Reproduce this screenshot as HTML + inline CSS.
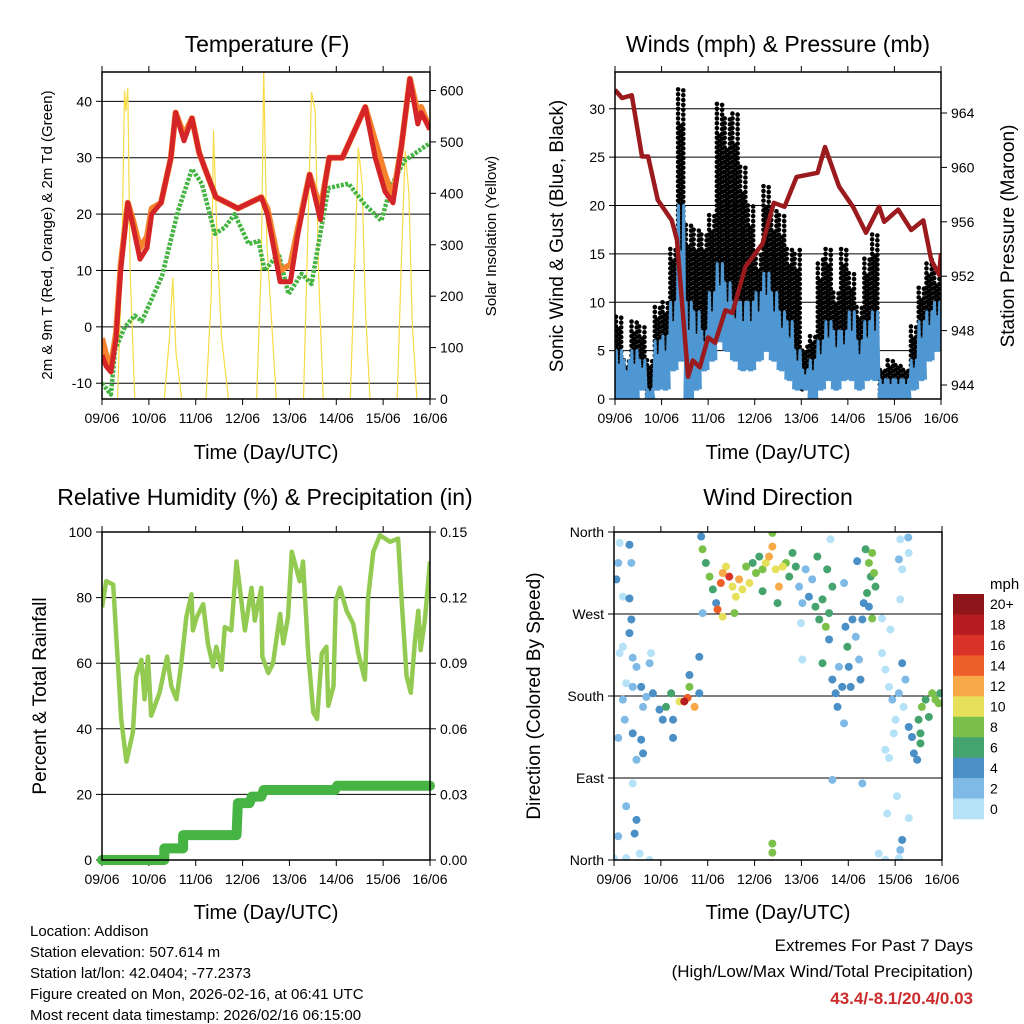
<!DOCTYPE html>
<html><head><meta charset="utf-8">
<style>
body{margin:0;background:#fff;}
svg{display:block;font-family:"Liberation Sans",Arial,sans-serif;}
</style></head>
<body>
<svg id="fig" width="1024" height="1024" viewBox="0 0 1024 1024" xmlns="http://www.w3.org/2000/svg">
<rect width="1024" height="1024" fill="#fff"/>
<g id="layer"></g>
<text x="267" y="52" font-size="23" text-anchor="middle">Temperature (F)</text>
<text x="778" y="52" font-size="23" text-anchor="middle">Winds (mph) &amp; Pressure (mb)</text>
<text x="265" y="505" font-size="23" text-anchor="middle">Relative Humidity (%) &amp; Precipitation (in)</text>
<text x="778" y="505" font-size="23" text-anchor="middle">Wind Direction</text>

<text transform="translate(52,235) rotate(-90)" font-size="15" text-anchor="middle">2m &amp; 9m T (Red, Orange) &amp; 2m Td (Green)</text>
<text transform="translate(496,236) rotate(-90)" font-size="15" text-anchor="middle">Solar Insolation (Yellow)</text>
<text transform="translate(563,236) rotate(-90)" font-size="19" text-anchor="middle">Sonic Wind &amp; Gust (Blue, Black)</text>
<text transform="translate(1014,236) rotate(-90)" font-size="19" text-anchor="middle">Station Pressure (Maroon)</text>
<text transform="translate(46,696) rotate(-90)" font-size="19" text-anchor="middle">Percent &amp; Total Rainfall</text>
<text transform="translate(540,696) rotate(-90)" font-size="19" text-anchor="middle">Direction (Colored By Speed)</text>

<text x="266" y="459" font-size="20" text-anchor="middle">Time (Day/UTC)</text>
<text x="778" y="459" font-size="20" text-anchor="middle">Time (Day/UTC)</text>
<text x="266" y="919" font-size="20" text-anchor="middle">Time (Day/UTC)</text>
<text x="778" y="919" font-size="20" text-anchor="middle">Time (Day/UTC)</text>

<g font-size="15">
<text x="30" y="936">Location: Addison</text>
<text x="30" y="957">Station elevation: 507.614 m</text>
<text x="30" y="978">Station lat/lon: 42.0404; -77.2373</text>
<text x="30" y="999">Figure created on Mon, 2026-02-16, at 06:41 UTC</text>
<text x="30" y="1020">Most recent data timestamp: 2026/02/16 06:15:00</text>
</g>
<text x="973" y="951" font-size="17" text-anchor="end">Extremes For Past 7 Days</text>
<text x="973" y="977" font-size="17" text-anchor="end">(High/Low/Max Wind/Total Precipitation)</text>
<text x="973" y="1004" font-size="17" font-weight="bold" fill="#cc2b2b" text-anchor="end">43.4/-8.1/20.4/0.03</text>
</svg>
<script>
// ---------- data ----------
const dayLabels = ["09/06","10/06","11/06","12/06","13/06","14/06","15/06","16/06"];
const tempTicks = [-10,0,10,20,30,40];
const solarTicks = [0,100,200,300,400,500,600];
const windTicks = [0,5,10,15,20,25,30];
const presTicks = [944,948,952,956,960,964];
const rhTicks = [0,20,40,60,80,100];
const precipTicks = [0,0.03,0.06,0.09,0.12,0.15];
const precipTickLabels = ["0.00","0.03","0.06","0.09","0.12","0.15"];
const dirTicks = [0,90,180,270,360];
const dirTickLabels = ["North","East","South","West","North"];
const speedLabels = ["0","2","4","6","8","10","12","14","16","18","20+"];

const tempTimes = [0,0.09,0.19,0.30,0.40,0.55,0.66,0.81,0.96,1.06,1.26,1.47,1.57,1.75,1.92,2.07,2.20,2.43,2.90,3.40,3.53,3.80,4.02,4.17,4.43,4.66,4.77,4.85,5.13,5.62,5.83,6.04,6.21,6.39,6.57,6.74,6.81,7.0];
const tempRed = [-5,-7,-8,-2,10,22,18,12,14,20,22,30,38,33,37,31,28,23,21,23,20,8,8,16,27,19,26,30,30,39,30,24,22,32,44,36,38,35];
const tempOrange = [-2,-5,-7,-1,11,22,19,14,16,21,22,30,38,34,37,31,28,23,21,23,21,10,11,17,27,21,26,30,30,39,33,27,23,32,44,38,39,35];
const dewTimes = [0,0.19,0.28,0.49,0.70,0.85,1.28,1.62,1.92,2.13,2.41,2.62,2.83,3.13,3.34,3.47,3.77,3.98,4.26,4.47,4.83,5.26,5.60,5.96,6.17,6.45,6.72,7.0];
const dewVals = [-10,-12,-4,0,2,1,9,20.5,28,25.4,16.5,17.6,20,14.7,15.2,10,13,5.8,9.4,7.6,24.6,25.4,21.8,18.8,25,29.4,31,32.6];
const solarTimes = [0,0.33,0.42,0.48,0.51,0.55,0.6,0.7,1.33,1.44,1.51,1.58,1.7,2.22,2.33,2.38,2.46,2.55,2.7,3.3,3.4,3.45,3.52,3.6,3.72,4.3,4.4,4.47,4.55,4.62,4.72,5.3,5.4,5.47,5.55,5.62,5.72,6.3,6.4,6.47,6.55,6.62,6.72,7.0];
const solarVals = [0,0,250,600,560,605,250,0,0,120,236,90,0,0,200,522,300,120,0,0,260,640,300,180,0,0,350,597,560,250,0,0,280,489,420,180,0,0,300,483,400,150,0];

const gustHi = [8.5,4,8,7.5,4,9.5, 10,15.8,32,18,17.5,17, 19,30.6,29,29.5,24,20, 15,22,19.5,19,15.8,15.4, 5.4,6.8,14.4,15.8,11,15.8, 13,9.5,14.7,17,3.3,4, 3.7,3.3,7.5,11.6,14.4,13];
const gustLo = [1,0.5,1,2,0.5,2, 3,6,8,4,4,5, 7,10,9,8,7,6, 6,7,6,5,4,2, 1,1,3,4,3,4, 4,2,4,4,0.5,0.5, 0.5,0.5,2,4,6,7];
const windHi = [5,4,5,4,1,6, 6.5,10,20,10,9,7, 11,14,12,10,10,10, 11,13,11,9,8,5, 3,4,6,8,7,7, 9,6,8,9,2,2, 2,2,4,8,9,10];
const windLo = [0,0,0,1,0,1, 1,3,4,0,1,3, 4,6,5,4,3,3, 4,5,4,3,2,1, 1,0,1,2,1,2, 2,1,2,2,0,0, 0,0,1,2,4,5];
const presTimes = [0,0.15,0.36,0.58,0.71,0.92,1.22,1.33,1.57,1.67,1.82,2.0,2.15,2.37,2.52,2.8,3.17,3.41,3.64,3.9,4.35,4.51,4.81,5.11,5.39,5.67,5.78,6.08,6.36,6.62,6.79,6.96,7.0];
const presVals = [965.7,965.1,965.3,960.8,960.8,957.6,956.1,954.7,944.6,945.8,945.3,947.5,947.1,949.5,949.3,952.7,954.4,957.4,957.1,959.3,959.6,961.5,958.6,957.1,955.2,957.1,956,956.9,955.4,956.1,953.2,952.1,953.7];

const rhTimes = [0,0.09,0.24,0.31,0.41,0.52,0.66,0.73,0.84,0.91,0.98,1.05,1.23,1.39,1.48,1.59,1.70,1.80,1.91,1.94,2.02,2.16,2.26,2.37,2.44,2.55,2.62,2.76,2.87,2.94,3.05,3.19,3.26,3.40,3.42,3.55,3.65,3.80,3.87,3.97,4.05,4.22,4.29,4.40,4.51,4.59,4.69,4.79,4.83,4.94,4.99,5.08,5.22,5.36,5.47,5.61,5.68,5.79,5.93,6.15,6.32,6.40,6.50,6.59,6.68,6.75,6.80,6.89,7.0];
const rhVals = [77,85,84,67,43,30,39,56,61,49,62,44,51,62,53,49,61,74,81,70,74,78,66,59,65,58,71,70,91,83,70,83,73,83,62,57,60,75,66,74,94,85,91,63,45,43,63,65,47,53,79,83,76,72,63,55,80,94,99,97,98,78,56,51,67,76,64,73,91];
const precipTimes = [0,1.33,1.33,1.73,1.73,2.87,2.90,3.15,3.20,3.40,3.45,4.97,5.02,7.0];
const precipVals = [0,0,0.0053,0.0053,0.0114,0.0114,0.026,0.026,0.029,0.029,0.032,0.032,0.034,0.034];

const dirTimes = [0.05,0.09,0.12,0.33,0.37,0.19,0.33,0.37,0.33,0.19,0.12,0.40,0.48,0.26,0.19,0.23,0.09,0.40,0.58,0.62,0.48,0.40,0.26,0.48,0.44,0.09,0.55,0.76,0.26,0,
 0.58,0.69,0.83,0.97,1.11,1.22,1.04,1.26,1.40,1.50,1.57,1.61,1.72,1.82,0.76,0.79,0.40,0.62,1.26,1.61,
 1.86,1.89,1.96,2.04,2.11,2.18,2.28,2.32,2.39,2.46,2.53,2.60,2.67,2.74,2.82,2.89,2.96,3.03,3.10,3.17,3.24,3.31,3.38,3.38,3.45,3.52,3.60,3.67,3.74,3.81,3.88,2.21,2.32,2.57,1.89,3.49,3.17,
 3.95,4.02,4.09,4.16,4.23,4.30,4.34,4.38,4.45,4.52,4.59,4.55,4.66,3.99,4.02,4.45,4.59,
 4.66,4.73,4.80,4.87,4.94,4.98,5.01,5.05,5.09,5.16,5.23,5.26,5.30,5.19,4.91,4.91,4.66,5.30,4.77,
 5.37,5.44,5.51,5.48,5.55,5.40,5.44,5.51,5.33,5.58,
 5.72,5.79,5.87,5.94,6.01,6.08,6.15,6.18,6.22,6.29,5.90,5.79,5.97,5.87,6.08,6.11,6.15,6.28,6.29,6.11,6.04,5.83,6.29,6.15,6.11,5.79,5.65,6.08,4.62,5.72,
 6.36,6.40,6.47,6.50,6.54,6.57,6.65,6.72,6.79,6.86,6.93,6.96,6.54,
 3.38,3.38,1.82];
const dirVals = [308,326,348,346,326,289,287,264,249,234,227,222,212,194,176,154,134,139,132,117,110,84,59,44,29,26,7,0,2,2,
 190,179,183,165,168,183,154,154,174,174,178,190,168,183,216,227,190,168,134,203,
 355,341,326,311,297,282,304,315,322,311,300,289,308,297,322,304,326,315,333,319,326,333,344,359,319,300,322,326,311,337,322,275,267,271,271,282,295,
 300,282,319,289,308,278,333,264,286,256,271,319,300,260,220,216,242,
 198,183,212,190,256,234,212,190,264,245,220,198,264,328,304,150,88,84,168,
 341,326,337,311,315,293,278,265,282,300,
 227,209,190,176,154,183,216,168,198,146,253,121,139,112,330,352,319,354,337,286,70,51,46,22,11,0,7,2,352,265,
 135,117,110,154,139,168,176,157,183,176,172,183,128,
 18,8,223];
const dirSpeeds = [4,2,0,4,2,0,4,4,4,0,0,2,2,0,2,2,2,4,4,4,2,0,2,4,4,2,0,0,0,0,
 4,2,4,4,6,6,4,4,10,18,14,8,12,4,2,0,2,2,4,4,
 4,8,6,8,6,4,14,12,10,16,10,10,12,10,8,10,6,8,6,8,10,12,12,8,10,12,10,8,6,6,6,14,10,8,2,6,6,
 2,2,2,4,2,6,6,6,6,8,6,6,6,0,0,6,4,
 4,4,2,4,4,6,4,4,4,2,2,4,4,4,2,2,2,2,4,
 6,8,8,6,8,6,4,8,4,6,
 0,0,0,2,0,2,4,0,2,4,0,0,0,0,2,0,0,2,0,0,0,0,0,4,2,0,0,0,0,0,
 4,4,4,6,6,8,6,6,8,8,8,6,6,
 8,8,4];
const speedColors = ["#b5e2f7","#7fbae6","#4a8fc6","#45a46e","#7bc149","#e6e05a","#f6a946","#ee5f2a","#d93228","#b81c23","#8e1519"];

// ---------- helpers ----------
const NS = "http://www.w3.org/2000/svg";
const layer = document.getElementById('layer');
function mk(tag, attrs, parent) {
  const e = document.createElementNS(NS, tag);
  for (const k in attrs) e.setAttribute(k, attrs[k]);
  (parent || layer).appendChild(e);
  return e;
}
function lin(d0, d1, r0, r1) { return v => r0 + (v - d0) / (d1 - d0) * (r1 - r0); }

const P1 = {x0:102, x1:430, y0:72, y1:399};
const P2 = {x0:615, x1:941, y0:72, y1:399};
const P3 = {x0:102, x1:430, y0:532, y1:860};
const P4 = {x0:614, x1:942, y0:532, y1:860};

function frame(P, name) {
  const r = mk('rect', {x:P.x0, y:P.y0, width:P.x1-P.x0, height:P.y1-P.y0, fill:'none', stroke:'#000', 'stroke-width':1.5});
  
  
}
function xAxis(P, name) {
  const sx = lin(0, 7, P.x0, P.x1);
  const g = mk('g', {});
  
  
  dayLabels.forEach((lab, i) => {
    const x = sx(i);
    mk('line', {x1:x, x2:x, y1:P.y1, y2:P.y1+6, stroke:'#000', 'stroke-width':1}, g);
    mk('line', {x1:x, x2:x, y1:P.y0, y2:P.y0-6, stroke:'#000', 'stroke-width':1}, g);
    const t = mk('text', {x:x, y:P.y1+24, 'font-size':14, 'text-anchor':'middle'}, g);
    t.textContent = lab;
  });
  return sx;
}
function yAxisLeft(P, d0, d1, ticks, labels, name, grid) {
  const sy = lin(d0, d1, P.y1, P.y0);
  const g = mk('g', {});
  
  
  ticks.forEach((v, i) => {
    const y = sy(v);
    if (grid && y > P.y0 + 1 && y < P.y1 - 1) mk('line', {x1:P.x0, x2:P.x1, y1:y, y2:y, stroke:'#000', 'stroke-width':1}, g);
    mk('line', {x1:P.x0-6, x2:P.x0, y1:y, y2:y, stroke:'#000'}, g);
    const t = mk('text', {x:P.x0-10, y:y+5, 'font-size':14, 'text-anchor':'end'}, g);
    t.textContent = labels ? labels[i] : v;
  });
  return sy;
}
function yAxisRight(P, d0, d1, ticks, labels, name) {
  const sy = lin(d0, d1, P.y1, P.y0);
  const g = mk('g', {});
  
  
  ticks.forEach((v, i) => {
    const y = sy(v);
    mk('line', {x1:P.x1, x2:P.x1+6, y1:y, y2:y, stroke:'#000'}, g);
    const t = mk('text', {x:P.x1+10, y:y+5, 'font-size':14, 'text-anchor':'start'}, g);
    t.textContent = labels ? labels[i] : v;
  });
  return sy;
}
function path(ts, vs, sx, sy) {
  return ts.map((t, i) => (i ? 'L' : 'M') + sx(t).toFixed(1) + ',' + sy(vs[i]).toFixed(1)).join('');
}
function clip(P, id) {
  const c = mk('clipPath', {id:id});
  mk('rect', {x:P.x0, y:P.y0, width:P.x1-P.x0, height:P.y1-P.y0}, c);
}

// ---------- Panel 1 ----------
clip(P1, 'c1');
const sx1 = xAxis(P1, 'temperature');
const sy1 = yAxisLeft(P1, -12.8, 45.2, tempTicks, null, 'temperature', true);
const sySolar = yAxisRight(P1, 0, 636, solarTicks, null, 'solar');
const g1 = mk('g', {'clip-path':'url(#c1)'});


const solarLine = mk('path', {d:path(solarTimes, solarVals, sx1, sySolar), fill:'none', stroke:'#f7dc45', 'stroke-width':1.2}, g1);


const dewLine = mk('path', {d:path(dewTimes, dewVals, sx1, sy1), fill:'none', stroke:'#46b443', 'stroke-width':4.5, 'stroke-dasharray':'3 1.5', 'stroke-linejoin':'round'}, g1);


const orangeLine = mk('path', {d:path(tempTimes, tempOrange, sx1, sy1), fill:'none', stroke:'#f5822d', 'stroke-width':6, 'stroke-linejoin':'round'}, g1);


const redLine = mk('path', {d:path(tempTimes, tempRed, sx1, sy1), fill:'none', stroke:'#d42427', 'stroke-width':5, 'stroke-linejoin':'round'}, g1);


frame(P1, 'temperature');

// ---------- Panel 2 ----------
clip(P2, 'c2');
const sx2 = xAxis(P2, 'winds');
const sy2 = yAxisLeft(P2, 0, 33.8, windTicks, null, 'wind', true);
const syP = lin(944, 964, 385, 113);
(function(){
  const g = mk('g', {});
  
  
  presTicks.forEach(v => {
    const y = syP(v);
    mk('line', {x1:P2.x1, x2:P2.x1+6, y1:y, y2:y, stroke:'#000'}, g);
    const t = mk('text', {x:P2.x1+10, y:y+5, 'font-size':14}, g);
    t.textContent = v;
  });
})();
const g2 = mk('g', {'clip-path':'url(#c2)'});


const binW = 1/6;
gustHi.forEach((hi, i) => {
  const lo = gustLo[i];
  const xa = sx2(i*binW), xb = sx2((i+1)*binW);
  let col = 0;
  for (let x = xa + 1; x < xb; x += 2.6, col++) {
    const top = col % 2 ? hi - (hi - lo) * 0.15 : hi;
    for (let v = lo + (col % 3) * 0.2; v <= top; v += 0.5) {
      const dot = mk('circle', {cx:x, cy:sy2(v), r:2.3, fill:'#000'}, g2);
      
      
    }
  }
});
windHi.forEach((hi, i) => {
  const lo = windLo[i];
  const xa = sx2(i*binW), xb = sx2((i+1)*binW);
  let d = '';
  const n = 6;
  for (let k = 0; k <= n; k++) {
    const x = xa + (xb - xa) * k / n;
    const v = k % 2 ? hi - (k % 4 === 3 ? (hi - lo) * 0.3 : 0) : lo;
    d += (k ? 'L' : 'M') + x.toFixed(1) + ',' + sy2(v).toFixed(1);
  }
  const p = mk('path', {d:d, fill:'none', stroke:'#4f97d2', 'stroke-width':3, 'stroke-linejoin':'round'}, g2);
  
  
});
const presLine = mk('path', {d:path(presTimes, presVals, sx2, syP), fill:'none', stroke:'#9b1a1e', 'stroke-width':4.5, 'stroke-linejoin':'round'}, g2);


frame(P2, 'winds');

// ---------- Panel 3 ----------
clip(P3, 'c3');
const sx3 = xAxis(P3, 'humidity');
const sy3 = yAxisLeft(P3, 0, 100, rhTicks, null, 'rh', true);
const syPr = yAxisRight(P3, 0, 0.15, precipTicks, precipTickLabels, 'precip');
const g3 = mk('g', {'clip-path':'url(#c3)'});


const rhLine = mk('path', {d:path(rhTimes, rhVals, sx3, sy3), fill:'none', stroke:'#93cb52', 'stroke-width':4.5, 'stroke-linejoin':'round'}, g3);


const prLine = mk('path', {d:path(precipTimes, precipVals, sx3, syPr), fill:'none', stroke:'#46b443', 'stroke-width':10, 'stroke-linejoin':'round', 'stroke-linecap':'round'}, layer);


frame(P3, 'humidity');

// ---------- Panel 4 ----------
clip(P4, 'c4');
const sx4 = xAxis(P4, 'direction');
const sy4 = yAxisLeft(P4, 0, 360, dirTicks, dirTickLabels, 'direction', true);
const g4 = mk('g', {'clip-path':'url(#c4)'});


const order = dirTimes.map((_, i) => i).sort((a, b) => dirSpeeds[a] - dirSpeeds[b]);
order.forEach(i => {
  const ci = Math.min(10, Math.round(dirSpeeds[i] / 2));
  const c = mk('circle', {cx:sx4(dirTimes[i]), cy:sy4(dirVals[i]), r:4, fill:speedColors[ci]}, g4);
  
  
});
frame(P4, 'direction');

const cb = mk('g', {});


const cbTop = 594, cbH = 225 / 11;
const mph = mk('text', {x:990, y:589, 'font-size':15}, cb);
mph.textContent = 'mph';
speedLabels.forEach((lab, k) => {
  const idx = 10 - k;
  const y = cbTop + k * cbH;
  const r = mk('rect', {x:953, y:y, width:31, height:cbH + 0.3, fill:speedColors[idx]}, cb);
  
  
  const t = mk('text', {x:990, y:y + cbH/2 + 5, 'font-size':14}, cb);
  t.textContent = speedLabels[idx];
});
</script>
</body></html>
